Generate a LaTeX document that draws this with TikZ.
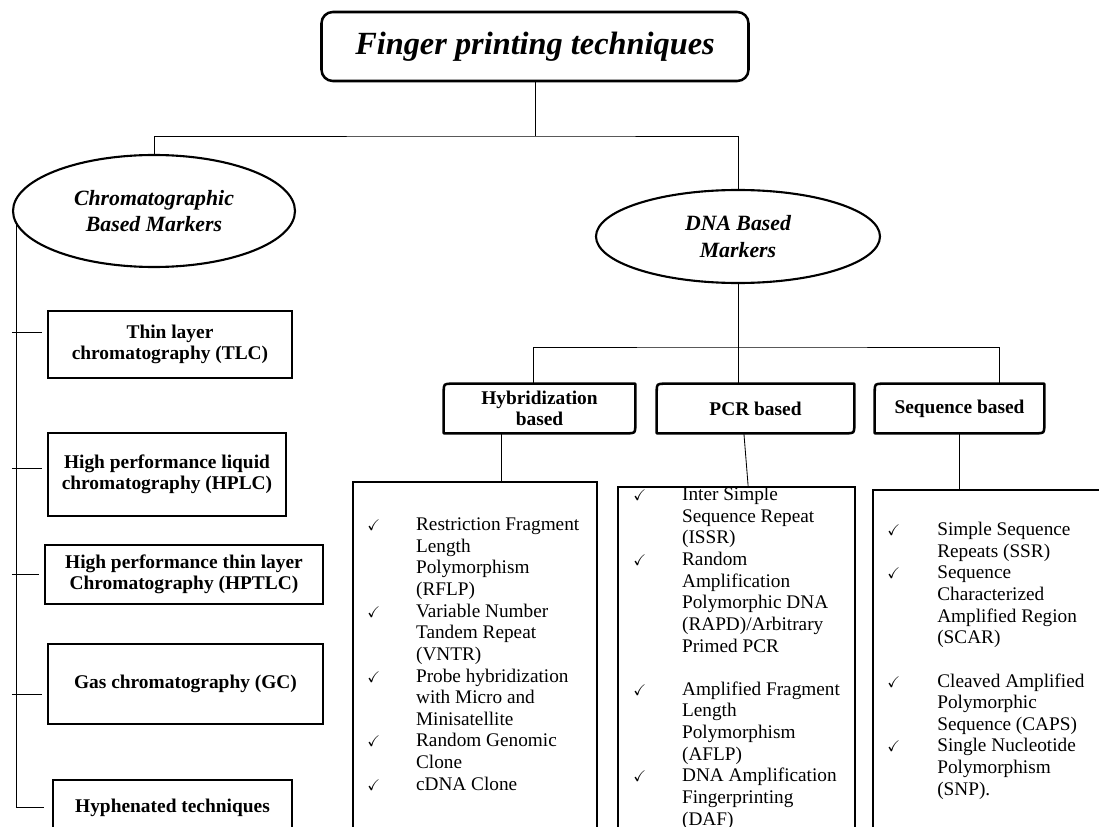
\documentclass[tikz,border=0pt]{standalone}
\usepackage{amssymb}
\usepackage{fontspec}
\setmainfont{Liberation Serif}
\usetikzlibrary{shapes.geometric}

\newcommand{\chkmark}{{\fontsize{11}{11}\selectfont$\checkmark$}}

\begin{document}
\begin{tikzpicture}[
    x=0.025cm, y=-0.025cm,
    title/.style={rectangle, draw=black, line width=1.8pt, rounded corners=8pt, inner sep=0pt, font=\fontsize{23}{27}\selectfont\bfseries\itshape},
    marker/.style={ellipse, draw=black, line width=1.5pt, align=center, inner sep=0pt, font=\fontsize{15.5}{19}\selectfont\bfseries\itshape},
    method/.style={rectangle, draw=black, line width=1.8pt, align=center, inner sep=0pt, font=\fontsize{13.8}{14.6}\selectfont\bfseries},
    basis/.style={rectangle, align=center, inner sep=0pt, font=\fontsize{13.8}{14.7}\selectfont\bfseries},
    basisline/.style={line width=1.8pt, line join=round},
    listbox/.style={rectangle, draw=black, line width=2pt, inner sep=0pt},
    items/.style={anchor=north west, inner sep=0pt, font=\fontsize{13.7}{15.4}\selectfont},
    link/.style={line width=0.6pt}
]

\useasboundingbox (0,0) rectangle (1099,827);
\fill[white] (0,0) rectangle (1099,827);
\clip (0,0) rectangle (1099,827);

% Title
\node[title, minimum width=427*0.025cm, minimum height=69*0.025cm] (title) at (535, 46.5) {Finger printing techniques};

% Two marker families
\node[marker, minimum width=282*0.025cm, minimum height=112*0.025cm] (chrom) at (154, 211) {Chromatographic\\Based Markers};
\node[marker, minimum width=284*0.025cm, minimum height=93*0.025cm] (dna) at (738, 236.5) {DNA Based\\Markers};

\coordinate (topbar) at (535, 136);
\draw[link] (title.south) -- (topbar);
\draw[link] (chrom.north) |- (topbar) -| (dna.north);

% Chromatographic methods (left column)
\foreach \n/\x/\y/\w/\h/\txt in {
    tlc/170/344.5/244/67/{Thin layer\\chromatography (TLC)},
    hplc/167/474.5/238/83/{High performance liquid\\chromatography (HPLC)},
    hptlc/184/574.5/278/59/{High performance thin layer\\Chromatography (HPTLC)},
    gc/185.5/684/275/80/{Gas chromatography (GC)},
    hyph/172.5/807.5/239/55/{Hyphenated techniques}} {
    \node[method, minimum width=\w*0.025cm, minimum height=\h*0.025cm] (\n) at (\x, \y) {\txt};
}

\draw[link] (chrom.186) |- ([xshift=-0.2cm]hyph.west);
\foreach \n/\dy in {tlc/0.31cm, hplc/0.16cm, hptlc/0cm, gc/-0.27cm} {
    \draw[link] ([xshift=-0.12cm, yshift=\dy]chrom.186 |- \n.west) -- ([xshift=-0.12cm, yshift=\dy]\n.west);
}

% DNA based categories
\node[basis, minimum width=191*0.025cm, minimum height=49*0.025cm] (hyb) at (539.5, 408.5) {Hybridization\\based};
\node[basis, minimum width=197*0.025cm, minimum height=49*0.025cm] (pcr) at (755.5, 408.5) {PCR based};
\node[basis, minimum width=169*0.025cm, minimum height=49*0.025cm] (seq) at (959.5, 408.5) {Sequence based};
\foreach \b in {hyb,pcr,seq} {
    \draw[basisline] ([yshift=-6pt]\b.north west) .. controls (\b.north west) .. ([xshift=6pt]\b.north west)
        -- (\b.north east) -- ([yshift=6pt]\b.south east) .. controls (\b.south east) .. ([xshift=-6pt]\b.south east)
        -- (\b.south west) -- cycle;
}

\coordinate (dnabar) at (738, 347);
\draw[link] (dna.south) -- (pcr.north -| dna.south);
\draw[link] ([xshift=-0.14cm]hyb.north) |- (dnabar) -| ([xshift=1.01cm]seq.north);

% Marker lists
\node[listbox, minimum width=244*0.025cm, minimum height=378*0.025cm] (hyblist) at (475, 671) {};
\node[listbox, minimum width=237*0.025cm, minimum height=373*0.025cm] (pcrlist) at (736.5, 673.5) {};
\node[listbox, minimum width=257*0.025cm, minimum height=370*0.025cm] (seqlist) at (1001.5, 675) {};

\draw[link] ([xshift=-0.96cm]hyb.south) -- ([xshift=-0.96cm]hyb.south |- hyblist.north);
\draw[link] ([xshift=-0.29cm]pcr.south) -- ([xshift=0.29cm]pcrlist.north);
\draw[link] (seq.south) -- (seq.south |- seqlist.north);

\node[items] (hybitems) at (367, 515) {\begin{tabular}{@{}p{1.22cm}@{}l@{}}
\chkmark & Restriction Fragment\\
 & Length\\
 & Polymorphism\\
 & (RFLP)\\
\chkmark & Variable Number\\
 & Tandem Repeat\\
 & (VNTR)\\
\chkmark & Probe hybridization\\
 & with Micro and\\
 & Minisatellite\\
\chkmark & Random Genomic\\
 & Clone\\
\chkmark & cDNA Clone
\end{tabular}};

\node[items] (pcritems) at (633, 485) {\begin{tabular}{@{}p{1.22cm}@{}l@{}}
\chkmark & Inter Simple\\
 & Sequence Repeat\\
 & (ISSR)\\
\chkmark & Random\\
 & Amplification\\
 & Polymorphic DNA\\
 & (RAPD)/Arbitrary\\
 & Primed PCR\\
 & \\
\chkmark & Amplified Fragment\\
 & Length\\
 & Polymorphism\\
 & (AFLP)\\
\chkmark & DNA Amplification\\
 & Fingerprinting\\
 & (DAF)
\end{tabular}};

\node[items] (seqitems) at (887, 520) {\begin{tabular}{@{}p{1.25cm}@{}l@{}}
\chkmark & Simple Sequence\\
 & Repeats (SSR)\\
\chkmark & Sequence\\
 & Characterized\\
 & Amplified Region\\
 & (SCAR)\\
 & \\
\chkmark & Cleaved Amplified\\
 & Polymorphic\\
 & Sequence (CAPS)\\
\chkmark & Single Nucleotide\\
 & Polymorphism\\
 & (SNP).
\end{tabular}};

\end{tikzpicture}
\end{document}
